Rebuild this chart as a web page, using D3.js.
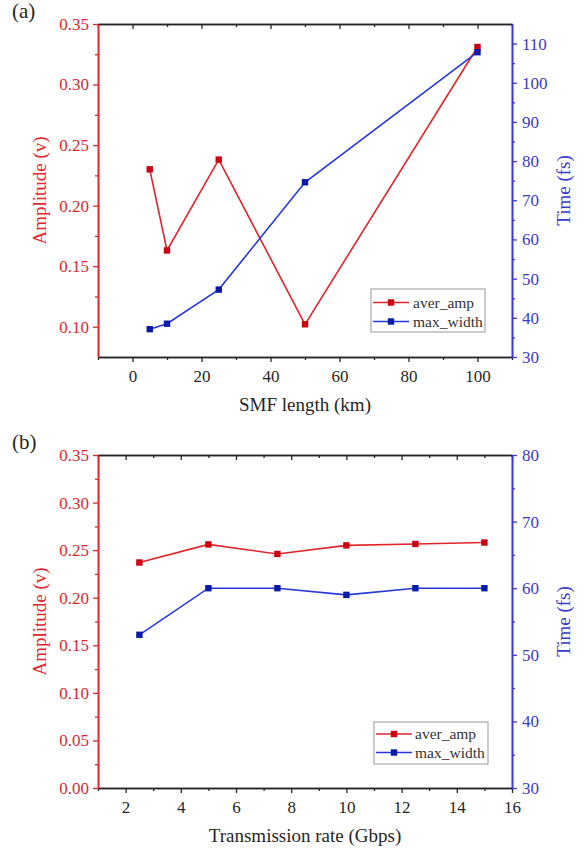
<!DOCTYPE html>
<html><head><meta charset="utf-8">
<script src="https://cdn.jsdelivr.net/npm/d3@7"></script>
<style>
html,body{margin:0;padding:0;background:#fff;}
svg{display:block;}
svg text{font-family:"Liberation Serif","Times New Roman",serif;}
</style></head>
<body><svg id="c" width="587" height="849"></svg>
<script>
// ---- data ----
const panelA_x = [5, 10, 25, 50, 100];
const panelA_amp = [0.230, 0.163, 0.238, 0.102, 0.331];
const panelA_width = [37.1, 38.5, 47.2, 74.6, 107.8];
const panelB_x = [2.5, 5, 7.5, 10, 12.5, 15];
const panelB_amp = [0.237, 0.256, 0.246, 0.255, 0.2565, 0.258];
const panelB_width = [53, 60, 60, 59, 60, 60];
const seriesNames = ["aver_amp", "max_width"];
const panelLabels = ["(a)", "(b)"];
const xTitles = ["SMF length (km)", "Transmission rate (Gbps)"];
const yLeftTitle = "Amplitude (v)";
const yRightTitle = "Time (fs)";
const ticksA_x = [0, 20, 40, 60, 80, 100];
const minorA_x = [-10, 10, 30, 50, 70, 90, 110];
const ticksA_amp = [0.10, 0.15, 0.20, 0.25, 0.30, 0.35];
const minorA_amp = [0.125, 0.175, 0.225, 0.275, 0.325];
const ticksA_time = [30, 40, 50, 60, 70, 80, 90, 100, 110];
const minorA_time = [35, 45, 55, 65, 75, 85, 95, 105];
const ticksB_x = [2, 4, 6, 8, 10, 12, 14, 16];
const minorB_x = [1, 3, 5, 7, 9, 11, 13, 15];
const ticksB_amp = [0.00, 0.05, 0.10, 0.15, 0.20, 0.25, 0.30, 0.35];
const minorB_amp = [0.025, 0.075, 0.125, 0.175, 0.225, 0.275, 0.325];
const ticksB_time = [30, 40, 50, 60, 70, 80];
const minorB_time = [35, 45, 55, 65, 75];

const RED_AX = "#e3262e", RED_LN = "#e0252b", RED_MK = "#cc0010";
const BLUE_AX = "#3a3acc", BLUE_LN = "#2638d8", BLUE_MK = "#0a1aa8";
const BLACK = "#262626";
const FONT = "Liberation Serif, Times New Roman, serif";

const svg = d3.select("#c");

function panel(o) {
  const g = svg.append("g").attr("font-family", FONT);
  const x = d3.scaleLinear().domain(o.xDom).range([o.left, o.right]);
  const yL = d3.scaleLinear().domain(o.ampDom).range([o.bottom, o.top]);
  const yR = d3.scaleLinear().domain(o.timeDom).range([o.bottom, o.top]);

  function styleAxis(sel, color, fs) {
    sel.attr("font-family", FONT).attr("font-size", fs);
    sel.selectAll("path.domain").attr("stroke", color).attr("stroke-width", 1.6);
    sel.selectAll(".tick line").attr("stroke", color).attr("stroke-width", 1.3);
    sel.selectAll(".tick text").attr("fill", color).attr("font-family", FONT).attr("font-size", fs);
  }
  const mk = (axis, vals, size) => axis.tickValues(vals).tickSize(size).tickSizeOuter(0).tickFormat("");
  const mb = g.append("g").attr("transform", `translate(0,${o.bottom})`).call(mk(d3.axisBottom(x), o.xMinor, 3));
  styleAxis(mb, BLACK, 17);
  const mt = g.append("g").attr("transform", `translate(0,${o.top})`).call(mk(d3.axisTop(x), o.xMinor, -3));
  styleAxis(mt, BLACK, 17);
  const ml = g.append("g").attr("transform", `translate(${o.left},0)`).call(mk(d3.axisLeft(yL), o.ampMinor, 3));
  styleAxis(ml, RED_AX, 17);
  const mr = g.append("g").attr("transform", `translate(${o.right},0)`).call(mk(d3.axisRight(yR), o.timeMinor, 3));
  styleAxis(mr, BLUE_AX, 17);

  const ax = g.append("g").attr("transform", `translate(0,${o.bottom})`)
    .call(d3.axisBottom(x).tickValues(o.xTicks).tickSize(5).tickSizeOuter(0).tickPadding(8).tickFormat(d3.format("d")));
  styleAxis(ax, BLACK, 17);
  const at = g.append("g").attr("transform", `translate(0,${o.top})`)
    .call(d3.axisTop(x).tickValues(o.xTicks).tickSize(-5).tickSizeOuter(0).tickFormat(""));
  styleAxis(at, BLACK, 17);
  const al = g.append("g").attr("transform", `translate(${o.left},0)`)
    .call(d3.axisLeft(yL).tickValues(o.ampTicks).tickSize(5).tickSizeOuter(0).tickPadding(4).tickFormat(d3.format(".2f")));
  styleAxis(al, RED_AX, 17);
  const ar = g.append("g").attr("transform", `translate(${o.right},0)`)
    .call(d3.axisRight(yR).tickValues(o.timeTicks).tickSize(5).tickSizeOuter(0).tickPadding(5).tickFormat(d3.format("d")));
  styleAxis(ar, BLUE_AX, 17);

  const ampData = o.xs.map((v, i) => [v, o.amp[i]]);
  const timeData = o.xs.map((v, i) => [v, o.time[i]]);
  g.append("path").datum(ampData).attr("fill", "none").attr("stroke", RED_LN).attr("stroke-width", 1.6)
    .attr("d", d3.line().x(d => x(d[0])).y(d => yL(d[1])));
  g.selectAll(null).data(ampData).enter().append("rect")
    .attr("x", d => x(d[0]) - 3.2).attr("y", d => yL(d[1]) - 3.2).attr("width", 6.4).attr("height", 6.4).attr("fill", RED_MK);
  g.append("path").datum(timeData).attr("fill", "none").attr("stroke", BLUE_LN).attr("stroke-width", 1.6)
    .attr("d", d3.line().x(d => x(d[0])).y(d => yR(d[1])));
  g.selectAll(null).data(timeData).enter().append("rect")
    .attr("x", d => x(d[0]) - 3.2).attr("y", d => yR(d[1]) - 3.2).attr("width", 6.4).attr("height", 6.4).attr("fill", BLUE_MK);

  const L = o.legend;
  g.append("rect").attr("x", L.x0).attr("y", L.y0).attr("width", L.x1 - L.x0).attr("height", L.y1 - L.y0)
    .attr("fill", "#fff").attr("stroke", "#a8a8a8").attr("stroke-width", 1.2);
  [[RED_LN, RED_MK], [BLUE_LN, BLUE_MK]].forEach((c, i) => {
    const yy = L.rows[i];
    g.append("line").attr("x1", L.lx0).attr("x2", L.lx1).attr("y1", yy).attr("y2", yy)
      .attr("stroke", c[0]).attr("stroke-width", 1.6);
    g.append("rect").attr("x", (L.lx0 + L.lx1) / 2 - 3.2).attr("y", yy - 3.2).attr("width", 6.4).attr("height", 6.4).attr("fill", c[1]);
    g.append("text").attr("x", L.tx).attr("y", yy + 5).attr("fill", "#333").attr("font-size", 15.5).text(seriesNames[i]);
  });

  g.append("text").attr("x", (o.left + o.right) / 2).attr("y", o.xTitleY).attr("text-anchor", "middle")
    .attr("fill", BLACK).attr("font-size", 19).text(o.xTitle);
  const cy = (o.top + o.bottom) / 2;
  g.append("text").attr("transform", `translate(46,${cy}) rotate(-90)`).attr("text-anchor", "middle")
    .attr("fill", RED_AX).attr("font-size", 19).text(yLeftTitle);
  g.append("text").attr("transform", `translate(570,${cy}) rotate(-90)`).attr("text-anchor", "middle")
    .attr("fill", BLUE_AX).attr("font-size", 19).text(yRightTitle);
  g.append("text").attr("x", 12).attr("y", o.labelY).attr("fill", BLACK).attr("font-size", 21).text(o.label);
}

panel({
  xs: panelA_x, amp: panelA_amp, time: panelA_width,
  xDom: [-10, 110], ampDom: [0.075, 0.35], timeDom: [30, 115],
  left: 98, right: 512, top: 24, bottom: 357,
  xTicks: ticksA_x, xMinor: minorA_x, ampTicks: ticksA_amp, ampMinor: minorA_amp,
  timeTicks: ticksA_time, timeMinor: minorA_time,
  legend: { x0: 371, x1: 485, y0: 289, y1: 332, rows: [302.5, 321.5], lx0: 373, lx1: 409, tx: 413 },
  xTitle: xTitles[0], xTitleY: 411, label: panelLabels[0], labelY: 18
});
panel({
  xs: panelB_x, amp: panelB_amp, time: panelB_width,
  xDom: [1, 16], ampDom: [0, 0.35], timeDom: [30, 80],
  left: 98, right: 512, top: 455, bottom: 788,
  xTicks: ticksB_x, xMinor: minorB_x, ampTicks: ticksB_amp, ampMinor: minorB_amp,
  timeTicks: ticksB_time, timeMinor: minorB_time,
  legend: { x0: 374, x1: 488, y0: 722, y1: 764, rows: [734, 752.5], lx0: 376, lx1: 412, tx: 415 },
  xTitle: xTitles[1], xTitleY: 842, label: panelLabels[1], labelY: 449
});
</script></body></html>
